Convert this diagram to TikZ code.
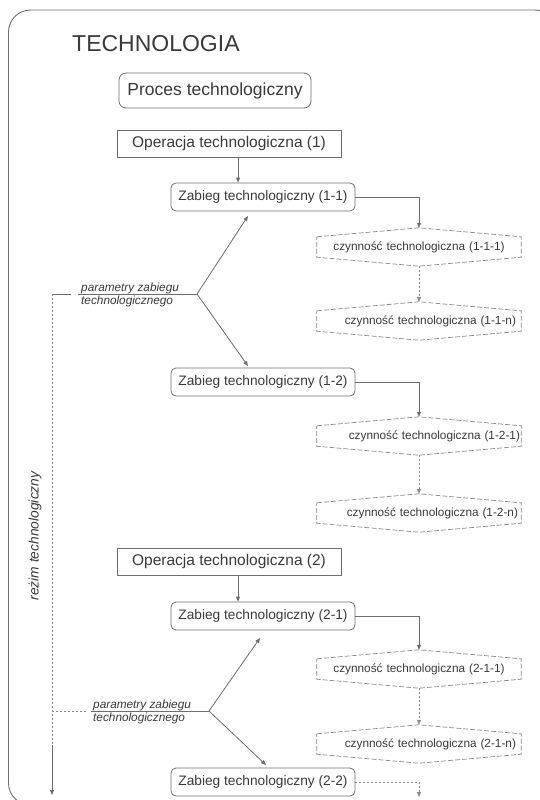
\documentclass[tikz,border=0pt]{standalone}
\usepackage{fontspec}
\setmainfont{Liberation Sans}
\usetikzlibrary{arrows.meta,calc}
\definecolor{ln}{HTML}{6E6E6E}
\definecolor{tx}{HTML}{3A3A3A}
\definecolor{hx}{HTML}{8A8A8A}
\begin{document}
\begin{tikzpicture}[x=1pt,y=-1pt,
  every node/.style={text=tx},
  conn/.style={draw=ln, line width=0.8pt},
  arr/.style={conn, -{Triangle[length=5pt,width=4pt]}},
  dotarr/.style={arr, draw=hx, dash pattern=on 2pt off 2pt},
  dotline/.style={draw=hx, line width=0.7pt, dash pattern=on 2pt off 2pt},
  procbox/.style={draw=ln, line width=0.8pt, rounded corners=7pt, minimum width=192pt, minimum height=35pt, inner sep=0, font=\fontsize{17.5}{20}\selectfont},
  opbox/.style={draw=ln, line width=0.8pt, minimum width=224pt, minimum height=27pt, inner sep=0, font=\fontsize{15.5}{18}\selectfont},
  zabbox/.style={draw=ln, line width=0.8pt, rounded corners=5pt, minimum width=184pt, minimum height=28pt, inner sep=0, font=\fontsize{13.7}{16}\selectfont},
  hexbox/.style={minimum height=20pt, text width=204pt, inner xsep=0, inner ysep=0, font=\fontsize{11.8}{14}\selectfont},
  hexline/.style={draw=hx, line width=0.7pt, dash pattern=on 5pt off 2pt},
  partext/.style={font=\fontsize{11.8}{13}\selectfont\itshape, align=left, inner sep=0}
]
\useasboundingbox (0,0) rectangle (540,800);
% frame
\draw[draw=ln, line width=0.9pt, rounded corners=22pt] (8.5,10) rectangle (557,805);

\node[anchor=base west, inner sep=0, font=\fontsize{23}{26}\selectfont] (title) at (72,52) {TECHNOLOGIA};
\node[procbox] (proc) at (215,90.5) {Proces technologiczny};

\node[opbox] (op1) at (229,143.5) {Operacja technologiczna (1)};
\node[zabbox] (z11) at (263,197) {Zabieg technologiczny (1-1)};
\node[hexbox, align=center] (c111) at (419,247) {czynność technologiczna (1-1-1)};
\node[hexbox, align=right] (c11n) at (419,321) {czynność technologiczna (1-1-n)\hspace*{5pt}};
\node[zabbox] (z12) at (263,382) {Zabieg technologiczny (1-2)};
\node[hexbox, align=right] (c121) at (419,436) {czynność technologiczna (1-2-1)\hspace*{1pt}};
\node[hexbox, align=right] (c12n) at (419,513) {czynność technologiczna (1-2-n)\hspace*{3pt}};

\node[opbox] (op2) at (229,561.5) {Operacja technologiczna (2)};
\node[zabbox] (z21) at (263,616) {Zabieg technologiczny (2-1)};
\node[hexbox, align=center] (c211) at (419,669) {czynność technologiczna (2-1-1)};
\node[hexbox, align=right] (c21n) at (419,744) {czynność technologiczna (2-1-n)\hspace*{5pt}};
\node[zabbox] (z22) at (263,782) {Zabieg technologiczny (2-2)};

\foreach \n in {c111,c11n,c121,c12n,c211,c21n}{
  \coordinate (\n t) at ([yshift=9pt]\n.north);
  \coordinate (\n b) at ([yshift=-9pt]\n.south);
  \draw[hexline] (\n.north west) -- (\n t) -- (\n.north east) -- (\n.south east) -- (\n b) -- (\n.south west) -- cycle;
}

% main flow
\draw[arr] ([xshift=9pt]op1.south) -- ([xshift=-25pt]z11.north);
\draw[arr] ([xshift=9pt]op2.south) -- ([xshift=-25pt]z21.north);
\draw[arr] (z11.east) -| (c111t);
\draw[arr] (z12.east) -| (c121t);
\draw[arr] (z21.east) -| (c211t);
\draw[dotarr] (c111b) -- (c11nt);
\draw[dotarr] (c121b) -- (c12nt);
\draw[dotarr] (c211b) -- (c21nt);
\coordinate (z22end) at (419,797);
\draw[dotarr] (z22.east) -| (z22end);

% parameters 1
\node[partext, anchor=west] (p1) at (81,295) {parametry zabiegu\\technologicznego};
\coordinate (u1) at (78,294);
\coordinate (b1) at (197,294);
\coordinate (a1u) at (248,216);
\coordinate (a1d) at (248,366);
\draw[conn] (u1) -- (b1);
\draw[arr] (b1) -- (a1u);
\draw[arr] (b1) -- (a1d);

% parameters 2
\node[partext, anchor=west] (p2) at (93,712) {parametry zabiegu\\technologicznego};
\coordinate (u2) at (91,711);
\coordinate (b2) at (209,711);
\coordinate (a2u) at (260,638);
\coordinate (a2d) at (266,765);
\draw[conn] (u2) -- (b2);
\draw[arr] (b2) -- (a2u);
\draw[arr] (b2) -- (a2d);

% regime line
\coordinate (r0) at (52,294);
\coordinate (r1) at (71,294);
\coordinate (r2) at (52,711);
\coordinate (r3) at (86,711);
\coordinate (r4) at (52,745);
\coordinate (r5) at (52,795);
\draw[conn] (r0) -- (r1);
\draw[dotline] (r0) -- (r4);
\draw[dotline] (r2) -- (r3);
\draw[arr] (r4) -- (r5);
\node[rotate=90, inner sep=0, font=\fontsize{13.8}{16}\selectfont\itshape] (rz) at (35,536) {reżim technologiczny};
\end{tikzpicture}
\end{document}
